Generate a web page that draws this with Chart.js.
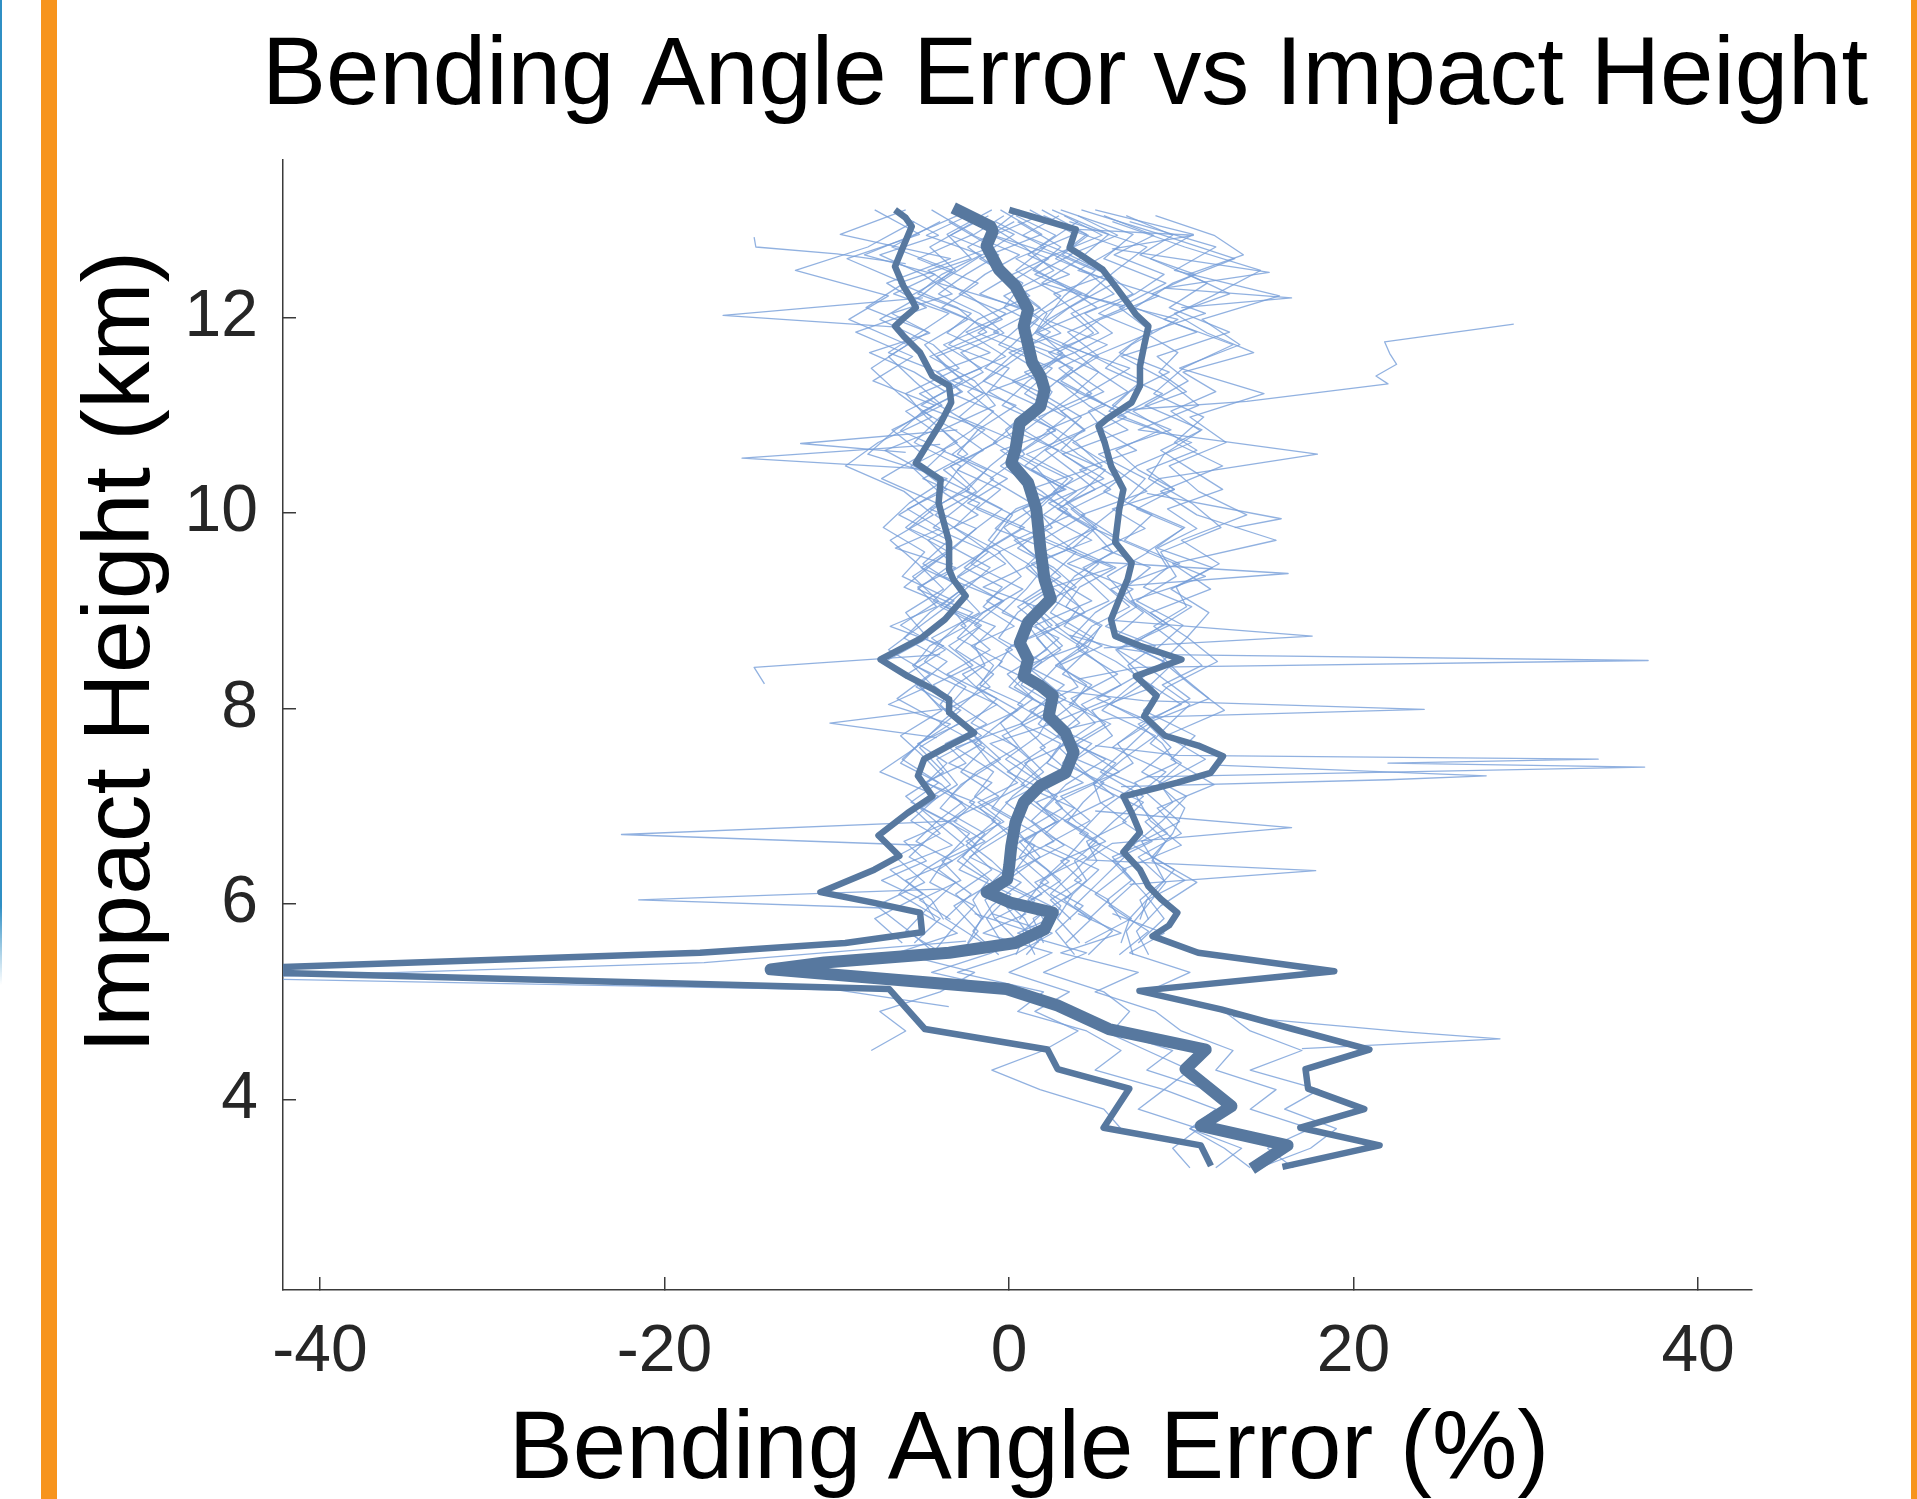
<!DOCTYPE html>
<html>
<head>
<meta charset="utf-8">
<title>Bending Angle Error vs Impact Height</title>
<script src="https://cdn.jsdelivr.net/npm/chart.js@4.4.1/dist/chart.umd.min.js"></script>
<style>
  html, body { margin: 0; padding: 0; background: #fff; }
  #page { position: relative; width: 1917px; height: 1499px; overflow: hidden; background: #fff; }
  #plot { position: absolute; left: 0; top: 0; }
  .edge-blue { position: absolute; left: 0; top: 0; width: 2px; height: 985px;
    background: linear-gradient(#2f8fc4 0, #2f8fc4 92%, rgba(47,143,196,0) 100%); }
  .bar-left { position: absolute; left: 41px; top: 0; width: 16px; height: 1499px; background: #f7941d; }
  .bar-right { position: absolute; left: 1911px; top: 0; width: 6px; height: 1499px; background: #f7941d; }
</style>
</head>
<body>
<div id="page">
  <canvas id="plot" width="1917" height="1499"></canvas>
  <div class="edge-blue"></div>
  <div class="bar-left"></div>
  <div class="bar-right"></div>
</div>
<script>
// ---- axis ticks ----
const xTickValues = [-40, -20, 0, 20, 40];
const xTickLabels = ['-40', '-20', '0', '20', '40'];
const yTickValues = [4, 6, 8, 10, 12];
const yTickLabels = ['4', '6', '8', '10', '12'];

// ---- summary profiles (impact height km, error %) ----
const medianHeights = [13.12, 12.93, 12.88, 12.73, 12.49, 12.32, 12.08, 11.91, 11.54, 11.40, 11.26, 11.09, 10.92, 10.65, 10.51, 10.31, 10.04, 9.63, 9.32, 9.12, 8.88, 8.67, 8.50, 8.33, 8.23, 8.13, 7.92, 7.75, 7.55, 7.34, 7.21, 7.04, 6.83, 6.59, 6.39, 6.25, 6.12, 6.01, 5.91, 5.74, 5.60, 5.50, 5.40, 5.33, 5.26, 5.13, 4.96, 4.72, 4.51, 4.31, 3.93, 3.73, 3.53, 3.29];
const medianErrors = [-3.24, -1.07, -0.95, -1.31, -0.59, 0.37, 1.10, 0.85, 1.34, 1.82, 2.06, 1.82, 0.62, 0.37, 0.13, 1.10, 1.58, 1.82, 2.06, 2.42, 1.10, 0.62, 1.10, 0.85, 1.82, 2.54, 2.30, 3.27, 3.75, 3.27, 1.82, 0.85, 0.37, 0.13, 0.01, -0.11, -1.31, 0.13, 2.54, 2.06, 0.37, -3.48, -10.71, -13.84, -9.04, -0.15, 2.82, 5.79, 11.42, 10.24, 12.91, 11.13, 16.17, 14.09];

const lowerHeights = [13.10, 13.02, 12.93, 12.73, 12.52, 12.32, 12.18, 12.10, 12.01, 11.91, 11.81, 11.64, 11.40, 11.30, 11.13, 10.92, 10.68, 10.51, 10.34, 10.10, 9.70, 9.42, 9.32, 9.15, 8.91, 8.71, 8.50, 8.33, 8.20, 8.09, 7.96, 7.75, 7.62, 7.48, 7.31, 7.10, 6.93, 6.70, 6.49, 6.35, 6.12, 6.01, 5.91, 5.71, 5.60, 5.50, 5.32, 5.18, 5.13, 4.72, 4.51, 4.31, 4.11, 3.71, 3.53, 3.32];
const lowerErrors = [-6.62, -6.01, -5.65, -6.13, -6.62, -6.13, -5.65, -5.41, -6.01, -6.62, -6.13, -5.17, -4.45, -3.48, -3.36, -3.97, -4.81, -5.41, -3.97, -4.09, -3.48, -3.48, -3.24, -2.52, -3.72, -5.17, -7.46, -5.89, -4.45, -3.48, -3.48, -2.03, -3.48, -4.93, -5.29, -4.45, -5.89, -7.58, -6.37, -7.82, -10.95, -7.82, -5.17, -5.05, -9.51, -17.94, -48.0, -17.94, -6.97, -4.89, 2.23, 2.82, 6.98, 5.49, 11.13, 11.72];

const upperHeights = [13.10, 13.03, 12.93, 12.90, 12.71, 12.63, 12.49, 12.32, 12.15, 12.03, 11.91, 11.71, 11.50, 11.30, 11.13, 10.96, 10.89, 10.72, 10.48, 10.24, 10.04, 9.70, 9.49, 9.32, 9.12, 8.91, 8.74, 8.64, 8.50, 8.33, 8.13, 7.92, 7.72, 7.62, 7.51, 7.34, 7.24, 7.10, 6.93, 6.73, 6.53, 6.35, 6.18, 6.05, 5.91, 5.78, 5.67, 5.50, 5.31, 5.11, 4.92, 4.72, 4.51, 4.31, 4.11, 3.90, 3.71, 3.53, 3.31];
const upperErrors = [0.01, 1.34, 3.27, 3.87, 3.51, 4.23, 5.43, 6.16, 6.88, 7.36, 8.09, 7.84, 7.60, 7.60, 7.12, 5.67, 5.19, 5.55, 5.92, 6.64, 6.40, 6.16, 7.12, 6.88, 6.40, 5.92, 6.16, 7.60, 10.01, 7.36, 8.57, 7.84, 9.05, 10.98, 12.42, 11.70, 9.77, 6.64, 7.12, 7.60, 6.64, 7.60, 8.09, 8.81, 9.77, 9.29, 8.33, 10.98, 18.88, 7.57, 12.31, 16.47, 20.92, 17.21, 17.36, 20.62, 16.91, 21.51, 15.87];

// ---- individual occultation profiles ----
const gridA = [13.1, 12.85, 12.6, 12.35, 12.1, 11.85, 11.6, 11.35, 11.1, 10.85, 10.6, 10.35, 10.1, 9.85, 9.6, 9.35, 9.1, 8.85, 8.6, 8.35, 8.1, 7.85, 7.6, 7.35, 7.1, 6.85, 6.6, 6.35, 6.1, 5.85, 5.6];
const gridB = [12.98, 12.72, 12.48, 12.22, 11.98, 11.72, 11.48, 11.22, 10.98, 10.72, 10.48, 10.22, 9.98, 9.72, 9.48, 9.22, 8.98, 8.72, 8.48, 8.22, 7.98, 7.72, 7.48, 7.22, 6.98, 6.72, 6.48, 6.22, 5.98, 5.72, 5.48];
const gridC = [5.9, 5.7, 5.5, 5.3, 5.1, 4.9, 4.7, 4.5, 4.3, 4.1, 3.9, 3.7, 3.5, 3.3];
const gridD = [13.04, 12.84, 12.64, 12.44, 12.24, 12.04, 11.84, 11.64, 11.44, 11.24, 11.04, 10.84, 10.64, 10.44, 10.24, 10.04, 9.84, 9.64, 9.44, 9.24, 9.04, 8.84, 8.64, 8.44, 8.24, 8.04, 7.84, 7.64, 7.44, 7.24, 7.04, 6.84, 6.64, 6.44, 6.24, 6.04, 5.84];

const runA01 = [-4.5, -2.1, -5.3, -1.8, -3.9, -0.6, -4.2, -2.7, -5.1, -1.4, -3.3, -0.9, -2.6, -4.4, -1.2, -3.0, -0.4, -2.8, -1.1, -3.6, -0.7, -2.2, 0.5, -1.9, -3.4, -0.8, -2.5, -1.0, -3.1, -1.6, -2.4];
const runA02 = [1.2, 3.8, 0.4, 2.9, 5.1, 1.7, 3.3, 0.2, 2.6, 4.4, 1.0, 3.7, 2.1, 0.6, 3.9, 2.4, 4.8, 1.5, 3.0, 0.9, 2.7, 4.1, 1.8, 3.5, 1.1, 2.9, 0.3, 2.2, 3.6, 1.4, 2.0];
const runA03 = [3.0, 7.2, 5.5, 9.1, 6.4, 8.3, 4.9, 7.7, 6.0, 9.4, 5.2, 7.9, 6.6, 4.8, 8.1, 5.7, 7.0, 9.0, 6.2, 7.6, 5.1, 8.4, 6.9, 5.3, 7.8, 6.1, 4.6, 6.8, 5.0, 7.1, 4.4];
const runA04 = [-7.8, -5.2, -9.4, -6.1, -8.3, -4.7, -7.0, -5.5, -3.9, -6.8, -5.0, -7.4, -4.2, -6.0, -3.5, -5.6, -4.1, -6.3, -3.7, -5.9, -4.5, -2.9, -5.2, -3.8, -6.0, -4.3, -2.6, -4.9, -6.4, -4.0, -5.5];
const runA05 = [-0.5, 1.9, -1.7, 0.8, -0.3, 2.4, 0.1, -1.5, 1.6, -0.2, 0.9, -1.1, 1.3, 2.5, -0.6, 0.7, -1.3, 1.1, 2.2, -0.1, 1.4, -0.5, 0.6, 2.0, 0.2, -1.0, 1.5, 0.4, -0.7, 0.9, 1.7];
const runA06 = [5.0, 10.7, 8.2, 11.5, 9.3, 12.8, 8.6, 10.4, 7.9, 11.2, 9.0, 8.1, 10.6, 12.3, 8.8, 9.7, 7.4, 10.1, 8.5, 9.9, 11.6, 8.0, 9.4, 7.7, 10.3, 8.9, 7.2, 9.6, 8.3, 7.0, 6.5];
const runA07 = [-1.0, -3.6, -2.2, -6.4, -3.0, -1.3, -4.6, -2.0, -0.8, -3.9, -2.4, -5.0, -1.7, -3.2, -0.5, -2.9, -4.4, -1.6, -3.1, -0.9, -2.3, -4.0, -1.4, -2.8, -0.6, -3.5, -1.9, -4.1, -2.2, -3.7, -1.5];
const runA08 = [2.5, 5.8, 4.1, 1.9, 6.7, 3.4, 5.2, 2.8, 4.6, 6.9, 3.1, 5.5, 2.3, 4.7, 6.0, 3.8, 2.6, 5.4, 4.0, 6.3, 3.6, 5.0, 2.9, 4.4, 6.1, 3.2, 5.3, 3.9, 2.4, 4.8, 3.3];
const runA09 = [-6.0, -9.8, -3.4, -7.1, -4.8, -8.9, -5.6, -7.9, -4.3, -6.6, -8.2, -3.6, -5.8, -7.3, -4.9, -6.2, -3.2, -5.1, -7.0, -4.6, -6.5, -3.9, -5.4, -7.5, -4.1, -5.7, -3.3, -6.9, -5.0, -7.8, -6.2];
const runA10 = [0.6, -1.2, 2.3, 0.0, 1.8, -0.9, 3.1, 1.1, -0.4, 2.7, 0.5, 3.4, 1.9, -0.3, 1.2, 3.0, 0.8, 2.5, -0.2, 1.6, 3.3, 0.7, 2.1, -0.1, 2.8, 1.3, 3.2, 0.4, 1.9, -0.8, 0.6];
const runA11 = [4.2, 8.8, 13.1, 9.5, 7.3, 10.9, 6.5, 9.2, 11.0, 7.5, 17.9, 8.7, 6.9, 10.2, 8.0, 11.4, 7.1, 9.3, 6.3, 8.6, 10.5, 7.9, 6.0, 9.1, 7.4, 8.2, 10.0, 6.6, 7.9, 9.0, 7.5];
const runA12 = [-2.8, 0.3, -1.9, -4.1, 0.7, -2.5, -0.2, -3.3, 0.4, -1.8, -3.0, -0.1, -2.4, 0.9, -1.5, -3.8, -0.3, -2.0, 0.2, -2.7, -1.2, 0.8, -3.1, -0.9, -2.0, 0.5, -1.6, -2.9, 0.1, -1.3, -0.4];
const runA13 = [1.9, 4.5, 2.7, 6.1, 3.5, 1.6, 4.9, 3.0, 5.6, 2.2, 4.0, 6.3, 3.3, 5.1, 2.0, 4.3, 5.8, 2.7, 4.6, 3.1, 5.9, 2.5, 4.2, 6.4, 3.0, 4.7, 2.1, 5.2, 3.7, 2.8, 4.1];

const runB01 = [-3.5, -1.0, -4.7, -2.3, -0.4, -3.8, -1.6, -5.2, -2.9, -0.7, -3.4, -1.9, -4.3, -2.1, -0.2, -3.0, -1.7, -4.5, -2.6, -1.1, -3.7, -2.0, -0.5, -2.8, -4.0, -1.4, -2.7, -0.9, -3.2, -1.8, -2.9];
const runB02 = [2.2, 6.4, 4.0, 8.7, 5.3, 3.1, 7.0, 4.5, 6.8, 3.7, 5.9, 8.0, 4.2, 6.5, 3.4, 7.2, 5.0, 3.6, 6.2, 8.4, 4.8, 6.0, 3.9, 7.4, 5.5, 4.1, 6.7, 5.2, 3.8, 6.0, 4.6];
const runB03 = [-5.5, -8.2, -12.4, -7.0, -9.3, -5.9, -8.0, -6.4, -4.5, -7.6, -9.5, -6.1, -4.4, -6.9, -5.3, -3.8, -6.0, -4.7, -7.2, -5.1, -3.9, -6.3, -4.8, -3.4, -5.6, -4.0, -6.6, -4.9, -7.7, -5.8, -4.2];
const runB04 = [-0.8, 2.1, 0.4, 3.0, 1.1, -0.6, 2.5, 0.9, 3.3, 1.4, -0.5, 1.9, 3.6, 0.3, 2.2, 1.0, -0.4, 2.9, 1.3, 0.0, 2.6, 1.7, -0.2, 2.0, 3.1, 0.6, 1.8, -0.3, 2.4, 0.8, 1.5];
const runB05 = [6.0, 10.2, 14.6, 11.8, 9.0, 13.0, 10.1, 8.4, 11.3, 9.6, 12.4, 8.8, 10.9, 15.5, 9.5, 11.7, 8.2, 10.4, 12.1, 9.2, 7.8, 10.8, 9.4, 11.9, 8.6, 10.0, 7.5, 9.1, 8.0, 6.8, 7.2];
const runB06 = [-2.0, -4.6, -3.1, -5.7, -2.4, -4.9, -3.6, -1.5, -4.0, -5.5, -2.8, -3.9, -1.8, -4.7, -3.3, -5.3, -2.1, -3.8, -4.9, -2.5, -3.7, -1.6, -4.2, -3.0, -5.1, -2.3, -3.6, -4.6, -2.0, -3.4, -4.5];
const runB07 = [4.0, 1.8, 5.0, 3.2, 2.1, 5.7, 2.9, 4.8, 1.7, 3.9, 5.4, 2.6, 4.4, 1.9, 5.2, 3.5, 2.4, 4.9, 3.0, 1.6, 4.5, 2.8, 5.6, 3.3, 2.0, 4.6, 3.4, 1.8, 4.3, 2.7, 3.8];
const runB08 = [0.3, -2.4, -0.6, 1.2, -1.8, -3.5, 0.0, -1.3, -2.9, 0.6, -1.1, -2.5, 0.2, -0.9, -2.2, 0.8, -1.5, -3.0, -0.4, -1.9, 0.5, -2.6, -0.8, 0.9, -1.7, -0.1, -2.3, 0.7, -1.0, -2.1, -0.6];
const runB09 = [3.5, 8.0, 6.2, 4.4, 9.8, 7.1, 5.6, 8.9, 6.3, 10.6, 7.4, 5.5, 8.3, 6.7, 9.9, 5.9, 7.8, 6.1, 9.0, 7.0, 5.4, 8.5, 6.6, 4.9, 7.7, 9.2, 6.0, 7.3, 5.8, 8.1, 6.4];
const runB10 = [-1.5, 0.9, 2.6, -0.3, 1.7, 0.2, -1.4, 2.0, 0.8, -0.9, 1.5, 2.8, 0.0, -1.2, 1.1, 2.4, 0.5, -0.6, 1.9, 0.3, 2.5, -0.4, 1.2, 0.1, -1.0, 1.6, 0.6, 2.3, -0.2, 1.0, 0.4];
const runB11 = [-4.0, -6.8, -3.3, -5.1, -7.5, -4.4, -2.9, -6.0, -4.8, -3.0, -5.7, -4.1, -6.4, -3.5, -5.0, -2.7, -4.6, -6.1, -3.6, -5.4, -2.8, -4.7, -6.2, -3.9, -2.5, -4.4, -5.8, -3.1, -4.6, -6.0, -3.7];
const runB12 = [0.5, 3.0, 1.4, 4.6, 2.3, 0.8, 3.7, 1.9, 4.2, 2.6, 0.9, 3.9, 2.0, 4.8, 1.3, 3.2, 4.4, 1.6, 2.9, 4.0, 1.2, 3.5, 2.4, 0.7, 3.8, 2.1, 4.5, 1.5, 3.0, 2.2, 1.0];
const runB13 = [7.0, 12.0, 9.6, 15.7, 11.2, 13.4, 9.9, 14.8, 10.5, 12.6, 9.3, 11.0, 13.8, 10.0, 12.2, 9.4, 11.6, 10.3, 8.9, 10.7, 12.5, 9.1, 11.4, 8.7, 10.2, 9.5, 8.3, 10.9, 8.8, 7.4, 8.1];

const runC01 = [-2.0, 1.5, -1.0, -4.5, 0.5, 3.0, 5.5, 8.0, 10.5, 9.0, 12.0, 10.5, 13.5, 12.0];
const runC02 = [4.0, 6.5, 3.0, 7.5, 5.0, 8.5, 10.0, 13.0, 12.0, 15.5, 14.0, 17.5, 15.0, 16.5];
const runC03 = [-5.0, -3.0, -6.5, -2.0, -4.0, -7.5, -6.0, -8.0];
const runC04 = [1.0, -1.5, 2.5, 0.0, 3.5, 1.5, 4.0, 2.0, -1.0, 1.8, 5.5, 6.5];
const runC05 = [6.0, 9.0, 7.0, 10.5, 8.0, 12.5, 14.0, 17.0, 14.0, 18.0, 16.0, 19.0, 17.5, 14.5];
const runC06 = [-1.0, 2.5, 0.5, -3.0, 2.0, 0.5, 4.5, 6.5, 5.0, 9.0, 7.5, 11.0, 9.5, 10.5];
const runC07 = [3.0, 0.5, 4.5, 2.0, 5.5, 7.0, 6.0, 9.5, 8.0, 11.5, 13.0, 10.5, 12.5, 14.0];

const runD01 = [-6.2, -4.1, -7.5, -5.0, -3.3, -6.8, -4.6, -8.1, -5.5, -3.7, -6.0, -4.4, -7.2, -5.1, -3.6, -5.9, -4.0, -6.6, -3.1, -5.3, -4.2, -6.9, -3.8, -5.6, -4.5, -7.0, -3.4, -5.2, -6.3, -4.1, -5.7, -3.5, -6.1, -4.8, -7.4, -5.0, -4.3];
const runD02 = [-2.4, -4.8, -1.6, -3.9, -5.3, -2.2, -3.6, -1.1, -4.2, -2.7, -5.0, -3.1, -1.5, -3.8, -2.3, -4.6, -1.9, -3.3, -5.1, -2.6, -4.0, -1.7, -3.5, -2.1, -4.4, -3.0, -1.3, -3.7, -2.5, -4.9, -2.0, -3.2, -1.4, -3.9, -2.8, -5.2, -3.4];
const runD03 = [-0.3, -2.1, 0.6, -1.4, -2.9, -0.2, -1.8, 0.9, -0.7, -2.4, -1.0, 0.4, -1.6, -3.0, -0.5, -1.9, 0.7, -1.2, -2.6, -0.4, -1.5, 0.3, -2.2, -0.9, -1.7, 0.8, -0.6, -2.0, -1.1, 0.5, -1.8, -0.3, -2.5, -1.0, 0.2, -1.4, -0.8];
const runD04 = [1.8, -0.9, 2.6, 0.2, -1.7, 1.4, 3.0, 0.0, 1.9, -1.2, 0.8, 2.7, -0.5, 1.2, 3.3, 0.4, -0.8, 2.1, 0.9, -1.5, 1.6, 2.9, 0.1, -0.6, 1.7, 0.5, 2.4, -1.1, 0.7, 2.0, -0.2, 1.3, 2.6, 0.3, -0.9, 1.5, 0.6];
const runD05 = [2.9, 0.8, 3.6, 1.5, 4.2, 2.0, 0.6, 3.1, 1.7, 4.0, 2.4, 0.9, 2.8, 4.5, 1.2, 3.4, 2.1, 0.5, 2.6, 3.9, 1.4, 2.3, 4.1, 1.0, 3.2, 1.8, 0.7, 3.0, 2.2, 4.3, 1.6, 2.7, 0.9, 3.5, 2.0, 1.1, 2.5];
const runD06 = [2.0, 4.6, 3.1, 5.7, 2.6, 4.0, 5.2, 2.3, 3.8, 5.5, 3.0, 4.4, 2.1, 3.6, 5.0, 2.8, 4.7, 3.3, 6.0, 2.5, 4.1, 3.2, 5.4, 2.9, 4.5, 3.7, 2.2, 4.8, 3.5, 5.1, 2.7, 3.9, 5.6, 3.0, 4.2, 2.4, 3.6];
const runD07 = [4.0, 6.3, 3.5, 5.8, 7.2, 4.4, 6.0, 3.8, 5.2, 6.9, 4.6, 5.5, 7.4, 4.1, 5.9, 3.6, 5.0, 6.6, 4.3, 5.7, 7.0, 4.8, 3.9, 5.4, 6.5, 4.2, 5.6, 3.7, 6.2, 4.9, 5.3, 6.8, 4.5, 5.1, 3.8, 5.8, 4.6];
const runD08 = [5.5, 8.4, 6.1, 9.0, 7.3, 5.2, 8.0, 6.4, 9.3, 7.0, 5.8, 8.7, 6.2, 7.5, 9.6, 6.0, 7.9, 5.4, 8.2, 6.8, 7.4, 5.6, 8.5, 6.9, 7.7, 5.9, 8.1, 6.3, 7.2, 5.3, 7.8, 6.6, 8.3, 6.0, 7.1, 5.7, 6.5];
const runD09 = [6.8, 9.5, 7.6, 10.8, 8.3, 11.4, 7.9, 9.8, 8.7, 10.3, 7.2, 9.1, 10.9, 8.0, 9.6, 7.4, 10.1, 8.5, 9.2, 7.8, 10.6, 8.8, 7.1, 9.4, 8.2, 10.0, 7.5, 8.9, 9.7, 7.3, 8.6, 9.9, 7.7, 8.4, 9.0, 7.6, 8.1];
const runD10 = [8.5, 11.9, 13.6, 10.4, 12.8, 9.6, 11.5, 14.2, 10.1, 12.0, 9.4, 11.1, 8.8, 10.6, 12.4, 9.2, 10.9, 8.6, 11.8, 9.7, 10.3, 8.4, 9.9, 11.2, 8.9, 10.5, 9.3, 8.2, 10.0, 8.7, 9.5, 7.9, 9.1, 8.3, 10.2, 8.0, 7.6];
const runD11 = [-1.2, -3.4, -0.6, -2.5, -4.1, -1.7, -0.3, -2.8, -1.5, -3.6, -0.9, -2.2, -3.9, -1.3, -2.6, -0.4, -1.9, -3.2, -1.1, -2.4, -3.7, -0.8, -2.0, -1.4, -3.1, -0.7, -2.7, -1.6, -3.5, -1.0, -2.3, -0.5, -1.8, -3.0, -1.2, -2.1, -1.5];
const runD12 = [0.4, 2.7, 1.1, 3.5, 0.6, 2.2, 1.5, 3.8, 0.9, 2.5, 1.8, 0.3, 2.9, 1.3, 3.2, 0.8, 2.0, 3.6, 1.0, 2.4, 0.5, 1.9, 3.1, 1.4, 0.7, 2.6, 1.7, 3.4, 0.9, 2.1, 1.2, 2.8, 0.6, 1.6, 3.0, 1.3, 2.0];
const runD13 = [3.2, 5.4, 2.6, 4.7, 6.1, 3.6, 4.9, 2.8, 5.2, 3.9, 6.4, 4.2, 3.0, 5.6, 4.4, 2.9, 5.0, 3.7, 6.2, 4.1, 3.3, 5.3, 4.6, 2.7, 4.8, 3.5, 5.9, 4.0, 3.1, 5.5, 4.3, 3.4, 5.1, 3.8, 4.5, 3.2, 4.7];
const runD14 = [-3.0, -5.6, -8.4, -4.3, -6.7, -3.5, -5.2, -7.0, -4.1, -2.8, -5.0, -6.3, -3.7, -4.9, -2.6, -4.4, -5.8, -3.2, -4.7, -6.1, -3.4, -2.5, -4.6, -5.5, -3.1, -4.0, -2.9, -5.3, -3.6, -4.8, -2.7, -4.2, -5.4, -3.3, -6.0, -4.5, -3.8];

// short excursions of single profiles (heights, errors)
const spikeR1H = [8.75, 8.62, 8.55, 8.49, 8.42, 8.30];
const spikeR1E = [3.5, 6.2, 9.0, 37.1, 7.5, 4.0];
const spikeR2H = [8.20, 8.08, 7.99, 7.90, 7.78];
const spikeR2E = [2.0, 7.8, 24.1, 6.0, 3.1];
const spikeR3H = [7.62, 7.52, 7.48, 7.44, 7.40, 7.30];
const spikeR3E = [5.0, 9.8, 34.2, 22.0, 36.9, 8.0];
const spikeR4H = [7.42, 7.31, 7.27, 7.20];
const spikeR4E = [12.0, 27.7, 22.0, 6.5];
const spikeR5H = [11.05, 11.14, 11.32, 11.40, 11.52, 11.63, 11.75, 11.93];
const spikeR5E = [6.5, 13.8, 22.0, 21.3, 22.5, 22.1, 21.8, 29.3];
const spikeR6H = [10.20, 9.94, 9.85];
const spikeR6E = [8.0, 15.8, 13.1];
const spikeR7H = [9.50, 9.38, 9.25];
const spikeR7E = [5.0, 16.2, 6.5];
const spikeR8H = [8.90, 8.74, 8.62];
const spikeR8E = [6.0, 17.6, 5.5];
const spikeR9H = [6.95, 6.78, 6.62, 6.45, 6.34, 6.20];
const spikeR9E = [5.0, 16.4, 6.0, 4.5, 17.8, 7.0];
const spikeR10H = [12.90, 12.84, 12.70, 12.46, 12.30, 12.20, 12.10];
const spikeR10E = [4.0, 10.7, 6.0, 15.1, 9.0, 16.4, 10.0];
const spikeR11H = [4.85, 4.69, 4.62, 4.52];
const spikeR11E = [13.0, 23.0, 28.5, 17.0];
const spikeL1H = [12.20, 12.02, 11.90];
const spikeL1E = [-5.0, -16.6, -6.5];
const spikeL2H = [12.82, 12.72, 12.65, 12.55];
const spikeL2E = [-14.8, -14.7, -10.0, -6.0];
const spikeL3H = [10.70, 10.56, 10.45];
const spikeL3E = [-4.0, -15.5, -5.0];
const spikeL4H = [10.85, 10.71, 10.62];
const spikeL4E = [-3.0, -12.1, -6.0];
const spikeL5H = [8.55, 8.42, 8.25];
const spikeL5E = [-4.0, -14.8, -14.2];
const spikeL6H = [8.00, 7.85, 7.70];
const spikeL6E = [-3.5, -10.4, -4.2];
const spikeL7H = [6.85, 6.71, 6.60];
const spikeL7E = [-3.0, -22.5, -5.0];
const spikeL8H = [6.15, 6.04, 5.95];
const spikeL8E = [-4.0, -21.5, -6.0];
const spikeL9H = [5.62, 5.40, 5.24, 5.12, 4.95];
const spikeL9E = [-2.5, -17.7, -46.0, -10.0, -3.5];

// ---- styles ----
const darkBlue = '#57789f';
const lightBlue = 'rgba(118,158,216,0.8)';
const fontFamily = "'Liberation Sans', Arial, Helvetica, sans-serif";

function toPoints(heights, errors) {
  const pts = [];
  for (let i = 0; i < errors.length && i < heights.length; i++) {
    if (errors[i] !== null) pts.push({ x: errors[i], y: heights[i] });
  }
  return pts;
}

function thin(heights, errors) {
  return {
    data: toPoints(heights, errors), showLine: true, borderColor: lightBlue,
    borderWidth: 1.3, pointRadius: 0, order: 1, clip: 0, borderJoinStyle: 'round'
  };
}

function bold(heights, errors, width) {
  return {
    data: toPoints(heights, errors), showLine: true, borderColor: darkBlue,
    borderWidth: width, pointRadius: 0, order: 0, clip: 0,
    borderJoinStyle: 'round', borderCapStyle: 'butt'
  };
}

const datasets = [
  bold(medianHeights, medianErrors, 12),
  bold(lowerHeights, lowerErrors, 6.5),
  bold(upperHeights, upperErrors, 6.5),
];
[runA01, runA02, runA03, runA04, runA05, runA06, runA07, runA08, runA09, runA10, runA11, runA12, runA13]
  .forEach(r => datasets.push(thin(gridA, r)));
[runB01, runB02, runB03, runB04, runB05, runB06, runB07, runB08, runB09, runB10, runB11, runB12, runB13]
  .forEach(r => datasets.push(thin(gridB, r)));
[runC01, runC02, runC03, runC04, runC05, runC06, runC07]
  .forEach(r => datasets.push(thin(gridC, r)));
[runD01, runD02, runD03, runD04, runD05, runD06, runD07, runD08, runD09, runD10, runD11, runD12, runD13, runD14]
  .forEach(r => datasets.push(thin(gridD, r)));
[
  [spikeR1H, spikeR1E], [spikeR2H, spikeR2E], [spikeR3H, spikeR3E], [spikeR4H, spikeR4E],
  [spikeR5H, spikeR5E], [spikeR6H, spikeR6E], [spikeR7H, spikeR7E], [spikeR8H, spikeR8E],
  [spikeR9H, spikeR9E], [spikeR10H, spikeR10E], [spikeR11H, spikeR11E],
  [spikeL1H, spikeL1E], [spikeL2H, spikeL2E], [spikeL3H, spikeL3E], [spikeL4H, spikeL4E],
  [spikeL5H, spikeL5E], [spikeL6H, spikeL6E], [spikeL7H, spikeL7E], [spikeL8H, spikeL8E],
  [spikeL9H, spikeL9E]
].forEach(([h, e]) => datasets.push(thin(h, e)));

// ---- large slide captions drawn onto the canvas ----
const captionPlugin = {
  id: 'captions',
  afterDraw(chart) {
    const ctx = chart.ctx;
    ctx.save();
    ctx.fillStyle = '#000';
    ctx.textBaseline = 'alphabetic';

    ctx.font = `96px ${fontFamily}`;
    ctx.textAlign = 'left';
    ctx.fillText('Bending Angle Error vs Impact Height', 262, 104);

    ctx.font = `96px ${fontFamily}`;
    ctx.textAlign = 'center';
    ctx.fillText('Bending Angle Error (%)', 1029, 1478);

    ctx.font = `95px ${fontFamily}`;
    ctx.translate(149, 652);
    ctx.rotate(-Math.PI / 2);
    ctx.textAlign = 'center';
    ctx.fillText('Impact Height (km)', 0, 0);
    ctx.restore();
  }
};

const axisColor = '#3a3a3a';
const tickFont = { family: fontFamily, size: 66 };

new Chart(document.getElementById('plot'), {
  type: 'scatter',
  data: { datasets },
  options: {
    responsive: false,
    animation: false,
    devicePixelRatio: 1,
    events: [],
    layout: { padding: { left: 0, top: 160, right: 165, bottom: 59 } },
    plugins: {
      legend: { display: false },
      tooltip: { enabled: false },
      title: { display: false }
    },
    elements: { point: { radius: 0 }, line: { tension: 0 } },
    scales: {
      x: {
        type: 'linear',
        position: 'bottom',
        min: -42.15,
        max: 43.13,
        afterBuildTicks: (scale) => { scale.ticks = xTickValues.map(v => ({ value: v })); },
        afterFit: (scale) => { scale.height = 150; },
        ticks: {
          autoSkip: false, maxRotation: 0, minRotation: 0, padding: 36,
          color: '#262626', font: tickFont,
          callback: (value) => xTickLabels[xTickValues.indexOf(value)] ?? ''
        },
        grid: { drawOnChartArea: false, drawTicks: true, tickLength: -13, color: axisColor, lineWidth: 1.5 },
        border: { display: true, color: axisColor, width: 1.5 }
      },
      y: {
        type: 'linear',
        position: 'left',
        min: 2.05,
        max: 13.61,
        afterBuildTicks: (scale) => { scale.ticks = yTickValues.map(v => ({ value: v })); },
        afterFit: (scale) => { scale.width = 283; },
        ticks: {
          autoSkip: false, padding: 38,
          color: '#262626', font: tickFont,
          callback: (value) => yTickLabels[yTickValues.indexOf(value)] ?? ''
        },
        grid: { drawOnChartArea: false, drawTicks: true, tickLength: -13, color: axisColor, lineWidth: 1.5 },
        border: { display: true, color: axisColor, width: 1.5 }
      }
    }
  },
  plugins: [captionPlugin]
});
</script>
</body>
</html>
